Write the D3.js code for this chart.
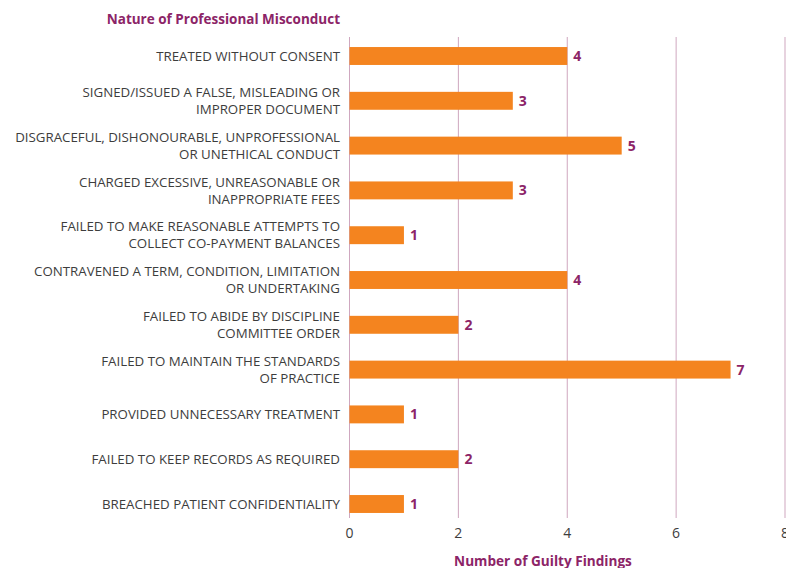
<!DOCTYPE html>
<html>
<head>
<meta charset="utf-8">
<script src="https://cdn.jsdelivr.net/npm/d3@7"></script>
<style>
  body { margin: 0; background: #fff; }
  svg { display: block; font-family: "Open Sans", "Noto Sans", sans-serif; }
</style>
</head>
<body>
<div id="chart"></div>
<script>
// categories (top to bottom), each split in display lines
var categories = [
  ["TREATED WITHOUT CONSENT"],
  ["SIGNED/ISSUED A FALSE, MISLEADING OR", "IMPROPER DOCUMENT"],
  ["DISGRACEFUL, DISHONOURABLE, UNPROFESSIONAL", "OR UNETHICAL CONDUCT"],
  ["CHARGED EXCESSIVE, UNREASONABLE OR", "INAPPROPRIATE FEES"],
  ["FAILED TO MAKE REASONABLE ATTEMPTS TO", "COLLECT CO-PAYMENT BALANCES"],
  ["CONTRAVENED A TERM, CONDITION, LIMITATION", "OR UNDERTAKING"],
  ["FAILED TO ABIDE BY DISCIPLINE", "COMMITTEE ORDER"],
  ["FAILED TO MAINTAIN THE STANDARDS", "OF PRACTICE"],
  ["PROVIDED UNNECESSARY TREATMENT"],
  ["FAILED TO KEEP RECORDS AS REQUIRED"],
  ["BREACHED PATIENT CONFIDENTIALITY"]
];
var findings = [4, 3, 5, 3, 1, 4, 2, 7, 1, 2, 1];
var xTicks = [0, 2, 4, 6, 8];

var width = 786, height = 568;
var orange = "#f4841f", purple = "#8c2467", grid = "#cfa7bf", textCol = "#3d3d3d";

var svg = d3.select("#chart").append("svg")
  .attr("width", width)
  .attr("height", height);

var x = d3.scaleLinear().domain([0, 8]).range([349.5, 785]);
var y = d3.scaleBand()
  .domain(d3.range(categories.length))
  .range([33.6, 526.4])
  .paddingInner(0.6)
  .paddingOuter(0.3);

// vertical gridlines
svg.append("g").selectAll("line")
  .data(xTicks)
  .enter().append("line")
    .attr("x1", d => x(d)).attr("x2", d => x(d))
    .attr("y1", 37).attr("y2", 518)
    .attr("stroke", grid)
    .attr("stroke-width", 1);

// bars
svg.selectAll(".bar")
  .data(findings)
  .enter().append("rect")
    .attr("class", "bar")
    .attr("x", x(0))
    .attr("y", (d, i) => y(i))
    .attr("width", d => x(d) - x(0))
    .attr("height", y.bandwidth())
    .attr("fill", orange);

// value labels
svg.selectAll(".val")
  .data(findings)
  .enter().append("text")
    .attr("class", "val")
    .attr("x", d => x(d) + 6)
    .attr("y", (d, i) => y(i) + y.bandwidth() / 2)
    .attr("dy", "0.36em")
    .attr("font-size", 14)
    .attr("font-weight", 700)
    .attr("fill", purple)
    .text(d => d);

// category labels
var lab = svg.selectAll(".cat")
  .data(categories)
  .enter().append("text")
    .attr("class", "cat")
    .attr("text-anchor", "end")
    .attr("font-size", 13.3)
    .attr("fill", textCol);

lab.each(function(lines, i) {
  var cy = y(i) + y.bandwidth() / 2;
  var lh = 17;
  var top = cy - (lines.length - 1) * lh / 2;
  d3.select(this).selectAll("tspan")
    .data(lines)
    .enter().append("tspan")
      .attr("x", 340)
      .attr("y", (t, j) => top + j * lh)
      .attr("dy", "0.36em")
      .text(t => t);
});

// x axis tick labels
svg.append("g").selectAll("text")
  .data(xTicks)
  .enter().append("text")
    .attr("x", d => x(d))
    .attr("y", 533)
    .attr("dy", "0.36em")
    .attr("text-anchor", "middle")
    .attr("font-size", 14)
    .attr("fill", textCol)
    .text(d => d);

// titles
svg.append("text")
  .attr("x", 340).attr("y", 19)
  .attr("dy", "0.36em")
  .attr("text-anchor", "end")
  .attr("font-size", 13.5)
  .attr("font-weight", 700)
  .attr("fill", purple)
  .text("Nature of Professional Misconduct");

svg.append("text")
  .attr("x", 543).attr("y", 561)
  .attr("dy", "0.36em")
  .attr("text-anchor", "middle")
  .attr("font-size", 13.6)
  .attr("font-weight", 700)
  .attr("fill", purple)
  .text("Number of Guilty Findings");
</script>
</body>
</html>
